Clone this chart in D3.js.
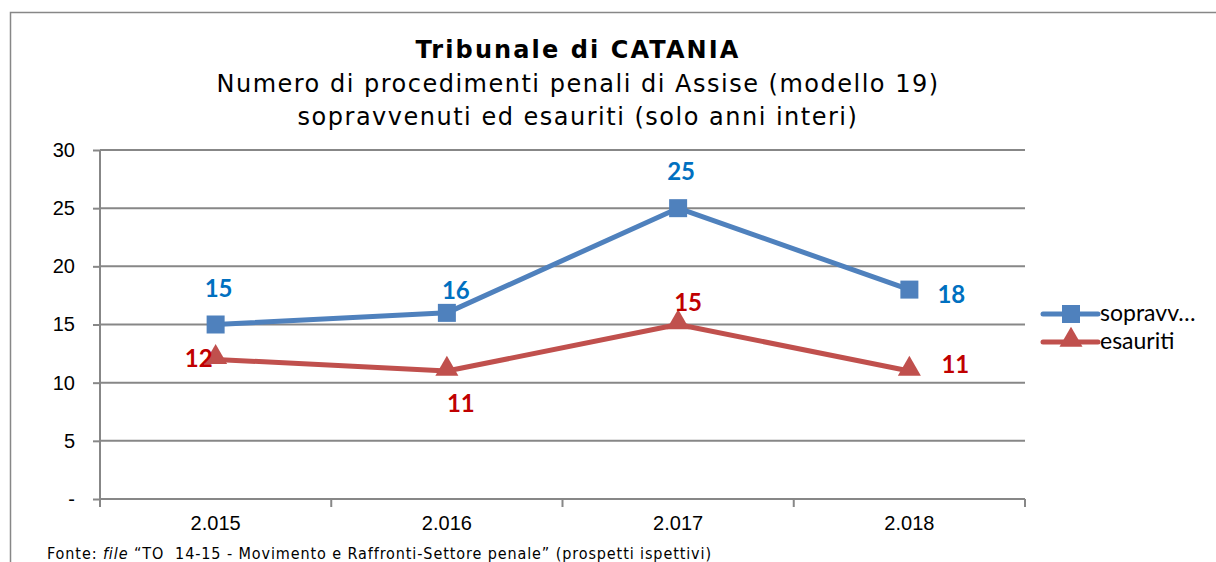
<!DOCTYPE html>
<html>
<head>
<meta charset="utf-8">
<script src="https://cdn.jsdelivr.net/npm/d3@7"></script>
<style>
body { margin: 0; background: #fff; }
svg { display: block; }
</style>
</head>
<body>
<svg width="1216" height="562"></svg>
<script>
// data
var years = ["2.015", "2.016", "2.017", "2.018"];
var sopravvenuti = [15, 16, 25, 18];
var esauriti = [12, 11, 15, 11];
var yTicks = [0, 5, 10, 15, 20, 25, 30];
var titleLines = ["Numero di procedimenti penali di Assise (modello 19)", "sopravvenuti ed esauriti (solo anni interi)"];

// label placement offsets [dx, dy, anchor] per point
var series = [
	{ name: "sopravv…", values: sopravvenuti, line: "#4F81BD", label: "#0070C0", marker: "square",
	  pos: [[3, -28, "middle"], [9, -14, "middle"], [3, -28, "middle"], [28, 13, "start"]] },
	{ name: "esauriti", values: esauriti, line: "#C0504D", label: "#C00000", marker: "triangle",
	  pos: [[-3, 8, "end"], [14, 41, "middle"], [10, -14, "middle"], [32, 2, "start"]] }
];

var svg = d3.select("svg");
var plotL = 100, plotR = 1025, plotT = 150, plotB = 499;
var grey = "#878787";

// outer frame
svg.append("rect").attr("x", 10.5).attr("y", 12.5).attr("width", 1220).attr("height", 560)
	.attr("fill", "none").attr("stroke", grey).attr("stroke-width", 1.5);

var x = d3.scaleBand().domain(years).range([plotL, plotR]);
var y = d3.scaleLinear().domain([0, 30]).range([plotB, plotT]);

// gridlines
svg.append("g").selectAll("line").data(yTicks.slice(1)).enter().append("line")
	.attr("x1", plotL).attr("x2", plotR)
	.attr("y1", function(d){ return y(d); }).attr("y2", function(d){ return y(d); })
	.attr("stroke", grey).attr("stroke-width", 2);

// y axis
var yAxis = svg.append("g").attr("transform", "translate(" + plotL + ",0)")
	.call(d3.axisLeft(y).tickValues(yTicks).tickSize(7).tickPadding(18)
		.tickFormat(function(d){ return d == 0 ? "-" : d; }));
yAxis.attr("font-size", null).attr("font-family", null);
yAxis.select(".domain").attr("stroke", grey).attr("stroke-width", 2).attr("d", "M0," + plotT + "V" + (plotB + 8));
yAxis.selectAll(".tick line").attr("stroke", grey).attr("stroke-width", 2);
yAxis.selectAll("text").style("font-family", "Liberation Sans, Arial").style("font-size", "20px").attr("fill", "#000");

// x axis
var xAxis = svg.append("g").attr("transform", "translate(0," + plotB + ")")
	.call(d3.axisBottom(x).tickSize(0).tickPadding(17));
xAxis.attr("font-size", null).attr("font-family", null);
xAxis.select(".domain").attr("stroke", grey).attr("stroke-width", 2).attr("d", "M" + plotL + ",0H" + plotR);
xAxis.selectAll("text").style("font-family", "Liberation Sans, Arial").style("font-size", "20px").attr("fill", "#000");
var bounds = years.map(function(d){ return x(d); }).concat([plotR]);
xAxis.selectAll(".sep").data(bounds).enter().append("line")
	.attr("x1", function(d){ return d; }).attr("x2", function(d){ return d; })
	.attr("y1", 0).attr("y2", 8).attr("stroke", grey).attr("stroke-width", 2);

// lines
var cx = function(i){ return x(years[i]) + x.bandwidth() / 2; };
var line = d3.line().x(function(d, i){ return cx(i); }).y(function(d){ return y(d); });
var tri = d3.symbol().type(d3.symbolTriangle).size(230);

series.forEach(function(s){
	var g = svg.append("g");
	g.append("path").datum(s.values).attr("d", line)
		.attr("fill", "none").attr("stroke", s.line).attr("stroke-width", 5).attr("stroke-linejoin", "round");
	if(s.marker == "square"){
		g.selectAll(".m").data(s.values).enter().append("rect")
			.attr("x", function(d, i){ return cx(i) - 9; }).attr("y", function(d){ return y(d) - 9; })
			.attr("width", 18).attr("height", 18).attr("fill", s.line);
	} else {
		g.selectAll(".m").data(s.values).enter().append("path")
			.attr("d", tri)
			.attr("transform", function(d, i){ return "translate(" + cx(i) + "," + (y(d) - 2) + ")"; })
			.attr("fill", s.line);
	}
	g.selectAll(".lbl").data(s.values).enter().append("text")
		.attr("x", function(d, i){ return cx(i) + s.pos[i][0]; })
		.attr("y", function(d, i){ return y(d) + s.pos[i][1]; })
		.attr("text-anchor", function(d, i){ return s.pos[i][2]; })
		.attr("font-family", "Lato, Open Sans, sans-serif").attr("font-weight", "bold")
		.attr("font-size", 24).attr("fill", s.label)
		.text(function(d){ return d; });
});

// legend
var leg = svg.append("g").attr("transform", "translate(1043,314)");
series.forEach(function(s, i){
	var gy = i * 28;
	leg.append("line").attr("x1", 0).attr("x2", 55).attr("y1", gy).attr("y2", gy)
		.attr("stroke", s.line).attr("stroke-width", 5).attr("stroke-linecap", "round");
	if(s.marker == "square"){
		leg.append("rect").attr("x", 19).attr("y", gy - 9).attr("width", 18).attr("height", 18).attr("fill", s.line);
	} else {
		leg.append("path").attr("d", tri).attr("transform", "translate(28," + (gy - 2) + ")").attr("fill", s.line);
	}
	leg.append("text").attr("x", 57).attr("y", gy + 7)
		.attr("font-family", "Lato, Open Sans, sans-serif").attr("font-size", 23).attr("fill", "#000")
		.text(s.name);
});

// titles
svg.append("text").attr("x", 578).attr("y", 58).attr("text-anchor", "middle")
	.attr("font-family", "DejaVu Sans, Verdana").attr("font-weight", "bold").attr("font-size", 24)
	.attr("letter-spacing", 2.1)
	.text("Tribunale di CATANIA");
titleLines.forEach(function(t, i){
	svg.append("text").attr("x", 578).attr("y", 92 + i * 33).attr("text-anchor", "middle")
		.attr("font-family", "DejaVu Sans, Verdana").attr("font-size", 24).attr("letter-spacing", 1.5)
		.text(t);
});

// footer
var foot = svg.append("text").attr("x", 47).attr("y", 559)
	.attr("font-family", "DejaVu Sans Condensed, DejaVu Sans").attr("font-stretch", "condensed")
	.attr("font-size", 16).attr("letter-spacing", 0.9).attr("fill", "#000")
	.style("white-space", "pre");
foot.append("tspan").text("Fonte: ");
foot.append("tspan").attr("font-style", "italic").text("file");
foot.append("tspan").text(" \u201cTO  14-15 - Movimento e Raffronti-Settore penale\u201d (prospetti ispettivi)");
</script>
</body>
</html>
